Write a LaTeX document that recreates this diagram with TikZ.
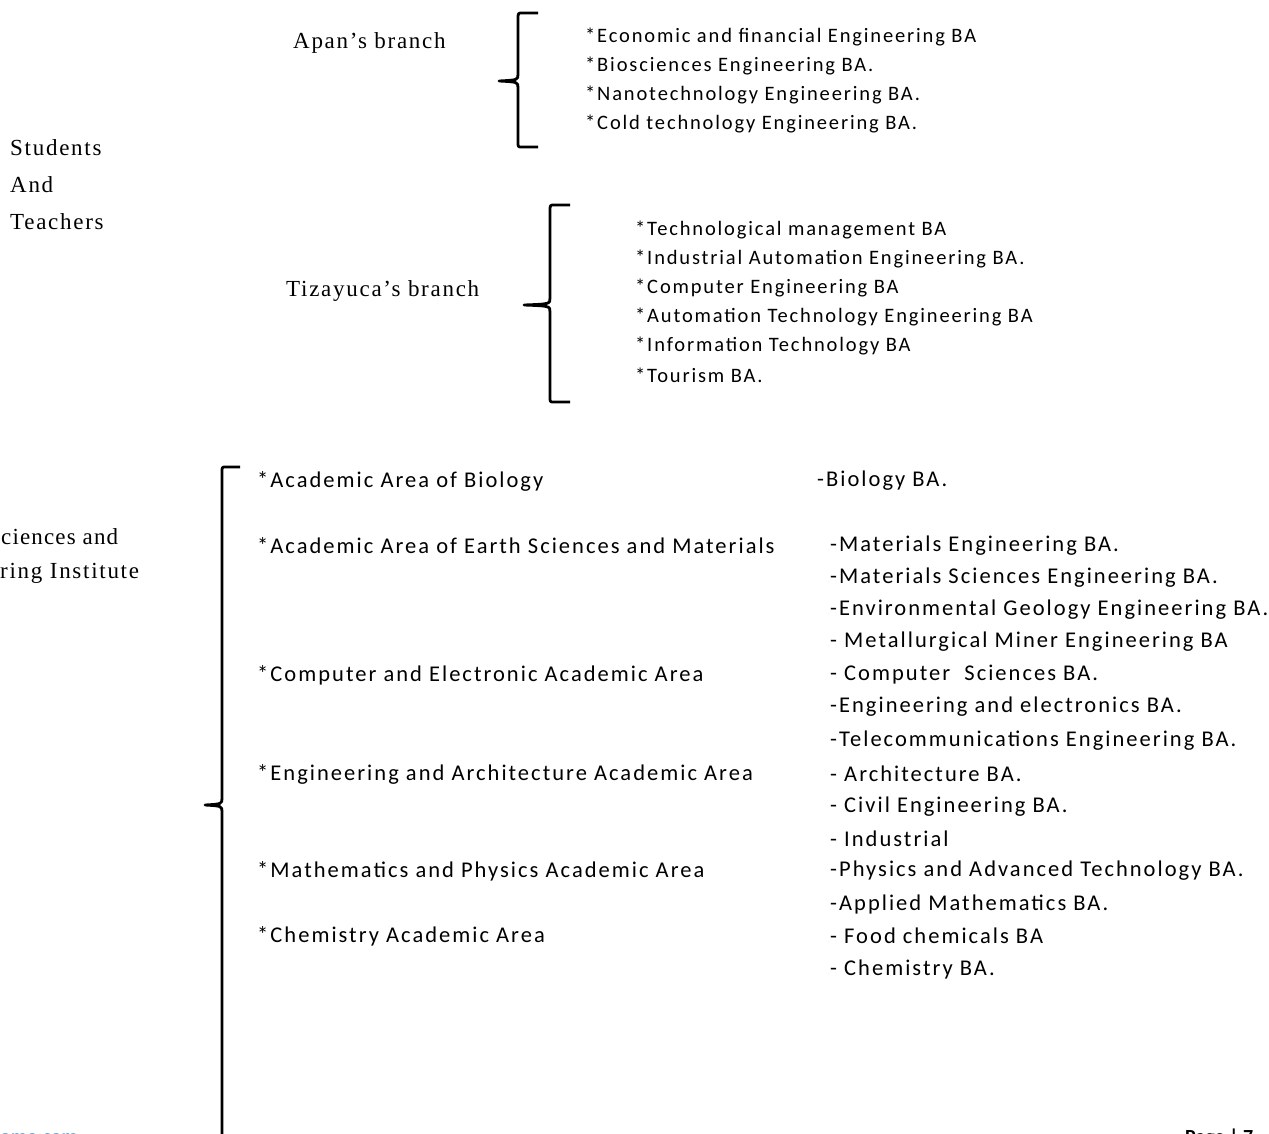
\documentclass[tikz,border=0pt]{standalone}
\usepackage{fontspec}
\setmainfont{Liberation Serif}[LetterSpace=7.5]
\newfontfamily\calib{Carlito}[LetterSpace=9]
\newfontfamily\calibtop{Carlito}[LetterSpace=9]
\newfontfamily\calibfoot{Carlito}
\newfontfamily\serifnarrow{Liberation Serif}[LetterSpace=5]
\begin{document}
\begin{tikzpicture}[x=1pt,y=-1pt,
  serif/.style={anchor=west,inner sep=0pt,font=\fontsize{23}{23}\selectfont},
  topitem/.style={anchor=west,inner sep=0pt,font=\calibtop\fontsize{20.5}{20.5}\selectfont},
  item/.style={anchor=west,inner sep=0pt,font=\calib\fontsize{22.5}{22.5}\selectfont},
  brace/.style={line width=2.8pt,line join=round}]
\clip (0,0) rectangle (1269,1133);
\fill[white] (0,0) rectangle (1269,1133);
% left labels
\node[serif] (stu) at (10,148) {Students};
\node[serif] (and) at (10,185) {And};
\node[serif] (tea) at (10,222) {Teachers};
\node[serif,font=\serifnarrow\fontsize{23}{23}\selectfont] (bs1) at (1,537) {ciences and};
\node[serif] (bs2) at (0,573) {ring Institute};
% Apan
\node[serif] (apan) at (293,43) {Apan's branch};
\draw[brace] (538,13) -- (522,13) .. controls (518,13) .. (518,20) -- (518,74) .. controls (518,80) .. (499,81)
  .. controls (518,82) .. (518,88) -- (518,142) .. controls (518,147) .. (522,147) -- (538,147);
\node[topitem] (a1) at (585,37) {*Economic and financial Engineering BA};
\node[topitem] (a2) at (585,66) {*Biosciences Engineering BA.};
\node[topitem] (a3) at (585,95) {*Nanotechnology Engineering BA.};
\node[topitem] (a4) at (585,124) {*Cold technology Engineering BA.};
% Tizayuca
\node[serif] (tiz) at (286,291) {Tizayuca's branch};
\draw[brace] (570,205) -- (554,205) .. controls (550,205) .. (550,212) -- (550,298) .. controls (550,304) .. (524,305)
  .. controls (550,306) .. (550,312) -- (550,397) .. controls (550,402) .. (554,402) -- (570,402);
\node[topitem] (t1) at (635,230) {*Technological management BA};
\node[topitem] (t2) at (635,259) {*Industrial Automation Engineering BA.};
\node[topitem] (t3) at (635,288) {*Computer Engineering BA};
\node[topitem] (t4) at (635,317) {*Automation Technology Engineering BA};
\node[topitem] (t5) at (635,346) {*Information Technology BA};
\node[topitem] (t6) at (635,375) {*Tourism BA.};
% big bracket
\draw[brace] (240,467) -- (226,467) .. controls (222,467) .. (222,472) -- (222,798) .. controls (222,804) .. (205,805)
  .. controls (222,806) .. (222,812) -- (222,1140);
\node[item] (l1) at (257,481) {*Academic Area of Biology};
\node[item] (l2) at (257,546) {*Academic Area of Earth Sciences and Materials};
\node[item] (l3) at (257,675) {*Computer and Electronic Academic Area};
\node[item] (l4) at (257,774) {*Engineering and Architecture Academic Area};
\node[item] (l5) at (257,871) {*Mathematics and Physics Academic Area};
\node[item] (l6) at (257,936) {*Chemistry Academic Area};
\node[item] (r1) at (817,481) {-Biology BA.};
\node[item] (r2) at (830,546) {-Materials Engineering BA.};
\node[item] (r3) at (830,578) {-Materials Sciences Engineering BA.};
\node[item] (r4) at (830,610) {-Environmental Geology Engineering BA.};
\node[item] (r5) at (830,642) {- Metallurgical Miner Engineering BA};
\node[item] (r6) at (830,675) {- Computer~ Sciences BA.};
\node[item] (r7) at (830,707) {-Engineering and electronics BA.};
\node[item] (r8) at (830,741) {-Telecommunications Engineering BA.};
\node[item] (r9) at (830,774) {- Architecture BA.};
\node[item] (r10) at (830,807) {- Civil Engineering BA.};
\node[item] (r11) at (830,839) {- Industrial};
\node[item] (r12) at (830,871) {-Physics and Advanced Technology BA.};
\node[item] (r13) at (830,904) {-Applied Mathematics BA.};
\node[item] (r14) at (830,936) {- Food chemicals BA};
\node[item] (r15) at (830,969) {- Chemistry BA.};
% footer (cut off, as in the page)
\node[anchor=base west,inner sep=0pt,text={rgb,255:red,80;green,150;blue,220},font=\calibfoot\bfseries\fontsize{20}{20}\selectfont] (web) at (0,1143) {ome.com};
\node[anchor=base west,inner sep=0pt,font=\calibfoot\bfseries\fontsize{20}{20}\selectfont] (page) at (1185,1143) {Page | 7};
\end{tikzpicture}
\end{document}
